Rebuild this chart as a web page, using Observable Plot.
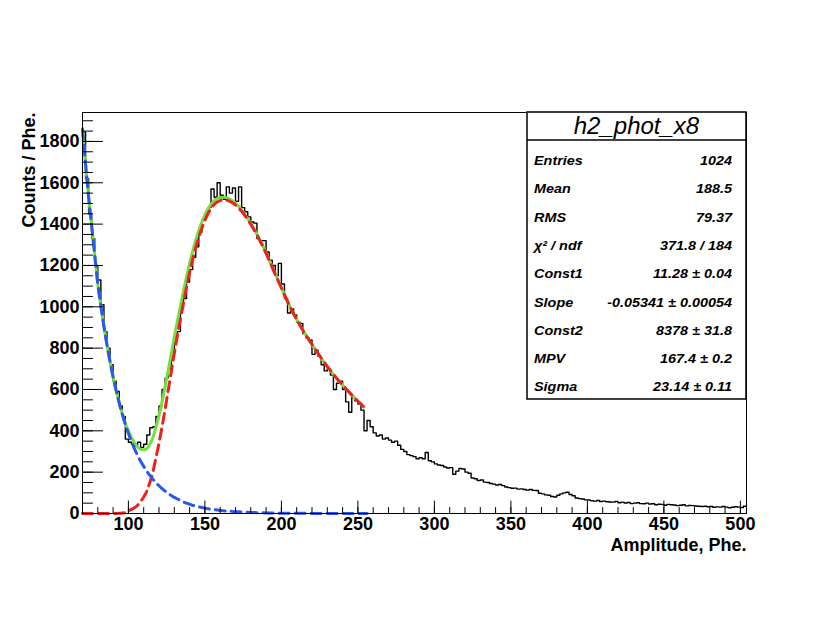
<!DOCTYPE html>
<html>
<head>
<meta charset="utf-8">
<script src="https://cdn.jsdelivr.net/npm/d3@7"></script>
<script src="https://cdn.jsdelivr.net/npm/@observablehq/plot@0.6"></script>
<style>
  body { margin: 0; background: #fff; }
  #wrap { position: relative; width: 830px; height: 623px; overflow: hidden; background: #fff; }
</style>
</head>
<body>
<div id="wrap"></div>
<script>
// ---- histogram (bins of width 2 starting at 70) ----
const binStart = 70;
const binWidth = 2;
const counts = [
  1845,1620,1450,1330,1200,1130,1010,880,800,720,
  640,590,520,470,360,345,335,325,345,320,
  335,380,415,420,470,520,600,655,700,760,
  850,880,990,1040,1120,1180,1240,1290,1360,1420,
  1450,1480,1570,1530,1600,1540,1520,1580,1550,1575,
  1510,1580,1480,1460,1435,1410,1405,1330,1320,1320,
  1265,1225,1200,1150,1210,1110,1040,970,990,960,
  926,920,870,850,840,770,790,760,720,690,
  700,670,600,630,640,600,540,490,560,545,
  530,500,400,450,420,390,375,380,360,365,
  355,345,350,330,310,300,285,280,275,265,
  270,265,295,255,250,240,235,232,225,220,
  222,190,205,218,215,200,195,172,168,160,
  162,152,150,145,142,138,140,135,128,125,
  122,123,118,119,116,113,116,112,111,98,
  95,90,88,82,80,88,95,100,103,92,
  86,75,72,70,66,65,62,60,63,58,
  60,57,56,55,58,52,55,51,53,48,
  50,52,48,47,50,46,47,42,45,44,
  40,44,42,41,38,40,42,37,39,38,
  36,35,34,35,33,34,30,32,31,34,
  31,28,30,33,31,29,35
];

// ---- fit curves, sampled every 2 from 70 to 256 ----
const fitX = d3.range(70, 257, 2);
const totalFit = [
  1860,1690,1530,1390,1250,1110,1005,905,815,735,
  660,595,536,482,437,400,368,341,322,311,
  308,313,334,366,419,474,540,613,692,772,
  853,930,1003,1076,1145,1210,1268,1321,1368,1409,
  1444,1473,1496,1513,1524,1529,1530,1528,1522,1513,
  1501,1486,1469,1449,1427,1404,1378,1351,1323,1293,
  1261,1228,1193,1159,1126,1093,1059,1027,996,967,
  939,913,888,864,841,818,796,774,752,731,
  711,692,673,655,638,621,605,589,573,558,
  543,529,515,502
];
const expoFit = [
  1860,1690,1530,1390,1250,1110,1005,905,815,735,
  660,595,535,480,432,388,348,313,282,253,
  228,205,184,166,149,134,120,108,97,87,
  78,70,63,56,50,45,40,36,32,29,
  26,23,21,19,17,15,13,12,11,10,
  9,8,7,6,5.5,5,4.5,4,3.6,3.2,
  2.9,2.6,2.3,2,1.8,1.6,1.4,1.3,1.1,1,
  0.9,0.8,0.7,0.6,0.55,0.5,0.45,0.4,0.35,0.3,
  0.27,0.24,0.21,0.19,0.17,0.15,0.13,0.12,0.11,0.1,
  0.09,0.08,0.07,0.06
];
const landauFit = [
  0,0,0,0,0,0,0,0,0,0,
  0,0,1,2,5,12,20,28,40,58,
  80,108,150,200,270,340,420,505,595,685,
  775,860,940,1020,1095,1165,1228,1285,1336,1380,
  1418,1450,1475,1494,1507,1514,1517,1516,1511,1503,
  1492,1478,1462,1443,1422,1399,1374,1347,1319,1290,
  1258,1225,1191,1157,1124,1091,1058,1026,995,966,
  938,912,887,863,840,818,796,774,752,731,
  711,692,673,655,638,621,605,589,573,558,
  543,529,515,502
];
const totalFitEnd = 254;

// ---- axes ----
const xDomain = [70, 504];
const yDomain = [0, 1940];
const xMajor = [100, 150, 200, 250, 300, 350, 400, 450, 500];
const xMinor = d3.range(70, 501, 10);
const yMajor = [0, 200, 400, 600, 800, 1000, 1200, 1400, 1600, 1800];
const yMinor = d3.range(0, 1941, 50);
const xLabel = "Amplitude, Phe.";
const yLabel = "Counts / Phe.";

// ---- stats box ----
const statsTitle = "h2_phot_x8";
const statNames = ["Entries", "Mean", "RMS", "χ² / ndf", "Const1", "Slope", "Const2", "MPV", "Sigma"];
const statValues = ["1024", "188.5", "79.37", "371.8 / 184", "11.28 ± 0.04", "-0.05341 ± 0.00054", "8378 ± 31.8", "167.4 ± 0.2", "23.14 ± 0.11"];

const GREEN = "#72e03c", RED = "#f02020", BLUE = "#2a58ee";
const FONT = "'Liberation Sans', Arial, Helvetica, sans-serif";

const hist = counts.map((c, i) => ({x: binStart + i * binWidth, y: c}));
hist.push({x: binStart + counts.length * binWidth, y: counts[counts.length - 1]});
const fit = fitX.map((x, i) => ({x, total: totalFit[i], expo: expoFit[i], landau: landauFit[i]}));

const tickShape = { draw(context, l) { context.moveTo(0, 0); context.lineTo(0, -l); } };

const chart = Plot.plot({
  width: 830,
  height: 623,
  marginLeft: 82,
  marginRight: 84,
  marginTop: 112,
  marginBottom: 110,
  x: {domain: xDomain, axis: null},
  y: {domain: yDomain, axis: null},
  style: {fontFamily: FONT, background: "white", color: "black"},
  marks: [
    Plot.line(hist, {x: "x", y: "y", curve: "step-after", stroke: "black", strokeWidth: 1.4}),
    Plot.line(fit.filter(d => d.x <= totalFitEnd), {x: "x", y: "total", stroke: GREEN, strokeWidth: 3, curve: "monotone-x"}),
    Plot.line(fit, {x: "x", y: "landau", stroke: RED, strokeWidth: 3, strokeDasharray: "10,6", curve: "monotone-x"}),
    Plot.line(fit, {x: "x", y: "expo", stroke: BLUE, strokeWidth: 3, strokeDasharray: "10,6", curve: "monotone-x"}),
    Plot.frame({stroke: "black", strokeWidth: 1}),
    // y ticks (inside the frame)
    Plot.vector(yMinor, {x: xDomain[0], y: d => d, length: 10, rotate: 90, anchor: "start", shape: tickShape, stroke: "black", strokeWidth: 1}),
    Plot.vector(yMajor, {x: xDomain[0], y: d => d, length: 20, rotate: 90, anchor: "start", shape: tickShape, stroke: "black", strokeWidth: 1}),
    // x ticks (inside the frame)
    Plot.vector(xMinor, {x: d => d, y: yDomain[0], length: 6, rotate: 0, anchor: "start", shape: tickShape, stroke: "black", strokeWidth: 1}),
    Plot.vector(xMajor, {x: d => d, y: yDomain[0], length: 12.5, rotate: 0, anchor: "start", shape: tickShape, stroke: "black", strokeWidth: 1}),
    // tick labels
    Plot.text(yMajor, {x: xDomain[0], y: d => d, text: d => String(d), textAnchor: "end", dx: -3, fontSize: 18, fontWeight: "bold", fill: "black"}),
    Plot.text(xMajor, {x: d => d, y: yDomain[0], text: d => String(d), lineAnchor: "top", dy: 4, fontSize: 18, fontWeight: "bold", fill: "black"}),
    // axis titles
    Plot.text([xLabel], {frameAnchor: "bottom-right", text: d => d, textAnchor: "end", dy: 37, fontSize: 18, fontWeight: "bold", fill: "black"}),
    Plot.text([yLabel], {frameAnchor: "top-left", text: d => d, rotate: -90, textAnchor: "end", dx: -60, fontSize: 18, fontWeight: "bold", fill: "black"})
  ]
});

// ---- stats box drawn into the same svg ----
const svg = d3.select(chart);
const bx = 527, by = 112, bw = 219, bh = 287, titleH = 28;
const g = svg.append("g").attr("font-family", FONT).attr("fill", "black");
g.append("rect").attr("x", bx).attr("y", by).attr("width", bw).attr("height", bh)
  .attr("fill", "white").attr("stroke", "black").attr("stroke-width", 1.5);
g.append("line").attr("x1", bx).attr("x2", bx + bw).attr("y1", by + titleH).attr("y2", by + titleH)
  .attr("stroke", "black").attr("stroke-width", 1.3);
g.append("text").attr("x", bx + bw / 2).attr("y", by + 22).attr("text-anchor", "middle")
  .attr("font-size", 24).attr("font-style", "italic").text(statsTitle);
statNames.forEach((name, i) => {
  const yy = 165 + i * 28.3;
  g.append("text").attr("transform", `translate(${bx + 7},${yy}) scale(1.2,1)`)
    .attr("text-anchor", "start")
    .attr("font-size", 12).attr("font-style", "italic").attr("font-weight", "bold").text(name);
  g.append("text").attr("transform", `translate(${bx + bw - 14},${yy}) scale(1.2,1)`)
    .attr("text-anchor", "end")
    .attr("font-size", 12).attr("font-style", "italic").attr("font-weight", "bold").text(statValues[i]);
});

document.getElementById("wrap").appendChild(chart);
</script>
</body>
</html>
